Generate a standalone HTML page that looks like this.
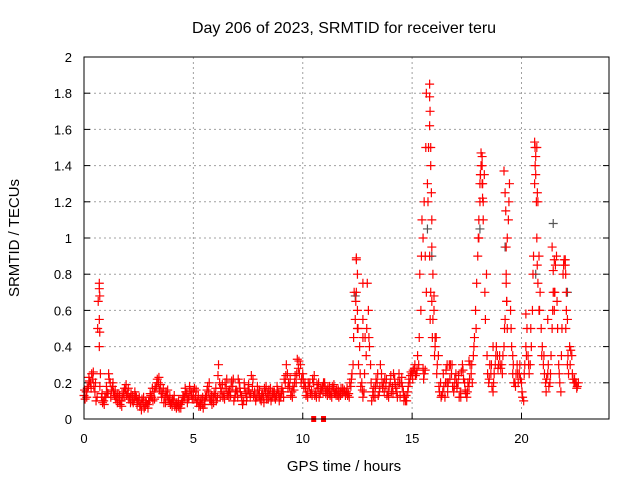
<!DOCTYPE html>
<html><head><meta charset="utf-8"><style>
body{margin:0;background:#fff;}
svg text{font-family:"Liberation Sans",sans-serif;fill:#000;}
</style></head><body>
<svg id="chart" width="640" height="480" xmlns="http://www.w3.org/2000/svg">
<rect width="640" height="480" fill="#fff"/>
<text x="344" y="33" font-size="16" text-anchor="middle">Day 206 of 2023, SRMTID for receiver teru</text>
<text x="344" y="471" font-size="15" text-anchor="middle">GPS time / hours</text>
<text x="19" y="238" font-size="15" text-anchor="middle" transform="rotate(-90 19 238)">SRMTID / TECUs</text>
<g id="grid"></g>
<g id="ticks"></g>
<g id="marks"></g>
<rect x="84" y="57" width="525" height="362" fill="none" stroke="#000" stroke-width="1"/>
</svg>
<script>
const xTicks=[0,5,10,15,20];
const yTicks=[0,0.2,0.4,0.6,0.8,1,1.2,1.4,1.6,1.8,2];
const yTickLabels=["0","0.2","0.4","0.6","0.8","1","1.2","1.4","1.6","1.8","2"];
// samples every 0.1 h starting 0
const valsA=[0.13,0.15,0.18,0.2,0.22,0.15,0.12,0.4,0.12,0.1,
0.12,0.14,0.2,0.18,0.13,0.12,0.1,0.1,0.15,0.16,
0.14,0.12,0.1,0.11,0.12,0.1,0.08,0.09,0.07,0.08,
0.1,0.12,0.15,0.18,0.2,0.19,0.14,0.12,0.13,0.1,
0.09,0.1,0.08,0.07,0.08,0.1,0.12,0.14,0.12,0.13,
0.15,0.12,0.1,0.09,0.08,0.1,0.13,0.15,0.1,0.12,
0.13,0.12,0.2,0.15,0.14,0.17,0.15,0.13,0.18,0.12,
0.15,0.2,0.13,0.1,0.14,0.16,0.12,0.18,0.15,0.12,
0.13,0.1,0.12,0.15,0.14,0.13,0.12,0.15,0.13,0.14,
0.12,0.15,0.2,0.25,0.18,0.15,0.16,0.2,0.28,0.3,
0.25,0.2,0.15,0.18,0.16,0.2,0.15,0.17,0.14,0.18,
0.2,0.16,0.14,0.15,0.17,0.15,0.13,0.15,0.14,0.16,
0.15,0.14,0.18,0.3,0.55,0.8,0.4,0.2,0.15,0.35,
0.6,0.3,0.15,0.12,0.2,0.15,0.25,0.2,0.18,0.15,
0.2,0.18,0.22,0.15,0.25,0.2,0.15,0.1,0.15,0.2,
0.25,0.28,0.25,0.3,0.6,0.28,0.27,1.3,0.9,0.65,
0.6,0.45,0.35,0.2,0.15,0.12,0.2,0.3,0.25,0.15,
0.25,0.2,0.15,0.3,0.2,0.12,0.18,0.25,0.35,0.6,
0.9,1.3,1.45,1.35,0.8,0.2,0.25,0.15,0.3,0.35,
0.35,0.3,0.4,0.8,1.1,0.6,0.25,0.2,0.3,0.25,
0.2,0.1,0.4,0.35,0.3,0.6,1.3,1.5,0.9,0.5,
0.3,0.2,0.25,0.2,0.5,0.88,0.9,0.3,0.15,0.8,
0.85,0.3,0.4,0.35,0.2,0.2,0.2];
// samples every 0.1 h starting 0.05
const valsB=[0.11,0.17,0.21,0.25,0.18,0.1,0.65,0.25,0.09,0.12,
0.15,0.22,0.16,0.15,0.11,0.14,0.08,0.12,0.17,0.13,
0.11,0.14,0.09,0.13,0.1,0.07,0.11,0.06,0.09,0.1,
0.13,0.1,0.17,0.22,0.16,0.12,0.09,0.15,0.11,0.08,
0.11,0.07,0.09,0.06,0.09,0.12,0.15,0.11,0.16,0.11,
0.17,0.09,0.07,0.11,0.06,0.12,0.18,0.11,0.08,0.14,
0.1,0.3,0.17,0.12,0.2,0.13,0.16,0.21,0.1,0.16,
0.22,0.15,0.08,0.17,0.12,0.15,0.24,0.13,0.1,0.16,
0.11,0.14,0.17,0.11,0.16,0.1,0.14,0.11,0.16,0.12,
0.17,0.22,0.3,0.2,0.13,0.18,0.24,0.33,0.25,0.22,
0.18,0.13,0.2,0.14,0.22,0.13,0.19,0.12,0.16,0.2,
0.14,0.17,0.13,0.18,0.14,0.16,0.12,0.17,0.15,0.13,
0.13,0.2,0.25,0.7,0.89,0.3,0.18,0.12,0.45,0.75,
0.4,0.1,0.17,0.22,0.13,0.3,0.17,0.22,0.13,0.18,
0.15,0.25,0.17,0.2,0.13,0.18,0.12,0.1,0.22,0.26,
0.27,0.24,0.35,0.8,1.1,0.25,1.8,1.5,0.7,0.55,
0.4,0.3,0.15,0.13,0.18,0.27,0.2,0.3,0.18,0.22,
0.17,0.12,0.26,0.22,0.14,0.2,0.3,0.2,0.45,0.75,
1.1,1.4,1.2,0.55,0.25,0.3,0.18,0.25,0.4,0.3,
0.28,0.35,0.55,1.0,1.3,0.4,0.2,0.25,0.2,0.22,
0.12,0.3,0.5,0.25,0.4,0.9,1.45,1.2,0.7,0.4,
0.25,0.22,0.18,0.35,0.7,0.85,0.5,0.2,0.5,0.88,
0.6,0.25,0.38,0.22,0.2,0.18];
// samples every 0.1 h starting 0.025 (second scatter track)
const valsC=[0.16,0.12,0.23,0.17,0.26,0.2,0.5,0.18,0.14,0.08,
0.18,0.25,0.12,0.2,0.16,0.09,0.13,0.07,0.12,0.19,
0.17,0.09,0.13,0.15,0.08,0.12,0.05,0.12,0.1,0.06,
0.14,0.17,0.11,0.2,0.23,0.15,0.17,0.09,0.16,0.12,
0.07,0.13,0.06,0.1,0.06,0.13,0.17,0.09,0.18,0.15,
0.11,0.16,0.13,0.07,0.12,0.08,0.16,0.2,0.13,0.09,
0.17,0.24,0.12,0.19,0.11,0.22,0.12,0.18,0.22,0.15,
0.12,0.17,0.1,0.2,0.1,0.19,0.14,0.22,0.12,0.18,
0.16,0.13,0.09,0.18,0.11,0.17,0.15,0.12,0.18,0.1,
0.15,0.12,0.24,0.17,0.22,0.12,0.2,0.25,0.32,0.2,
0.22,0.17,0.12,0.2,0.13,0.24,0.12,0.2,0.17,0.15,
0.17,0.13,0.18,0.12,0.19,0.13,0.16,0.13,0.17,0.15,
0.17,0.12,0.22,0.45,0.65,0.5,0.25,0.16,0.25,0.5,
0.45,0.2,0.13,0.18,0.25,0.18,0.2,0.15,0.22,0.12,
0.24,0.14,0.19,0.12,0.2,0.23,0.1,0.13,0.18,0.24,
0.22,0.3,0.27,0.45,0.9,0.22,1.5,1.2,0.55,0.45,
0.35,0.25,0.18,0.12,0.25,0.2,0.15,0.22,0.3,0.18,
0.2,0.24,0.12,0.27,0.16,0.15,0.22,0.3,0.4,0.5,
1.0,1.35,1.3,0.7,0.35,0.22,0.3,0.2,0.35,0.28,
0.3,0.25,0.5,0.65,1.2,0.5,0.3,0.18,0.25,0.3,
0.15,0.25,0.35,0.3,0.5,0.8,1.4,1.25,0.6,0.35,
0.35,0.15,0.3,0.25,0.6,0.7,0.65,0.25,0.35,0.85,
0.5,0.35,0.3,0.25,0.22,0.17];
// extra points along peaks
const spikeT=[0.7,0.7,0.7,0.72,0.72,12.45,12.45,12.5,12.5,12.75,12.75,12.75,15.5,15.55,15.6,15.65,15.8,15.8,15.8,15.82,15.85,15.85,15.88,15.9,15.9,15.95,16.0,16.05,18.05,18.1,18.12,18.15,18.2,18.2,18.22,18.25,19.2,19.25,19.28,19.3,19.3,19.32,19.35,20.6,20.62,20.65,20.68,20.7,20.72,20.75,20.8,21.4,21.45,21.5,21.5,22.0,22.02,22.05,22.1,16.6,17.6,18.7,19.6,20.2,21.2];
const spikeV=[0.75,0.72,0.55,0.68,0.48,0.88,0.7,0.6,0.5,0.75,0.55,0.45,1.0,1.2,0.9,0.7,1.85,1.78,1.62,1.7,1.5,1.4,1.25,1.1,0.95,0.8,0.68,0.45,1.0,1.2,1.35,1.47,1.4,1.3,1.22,1.1,1.37,1.25,1.15,0.95,0.75,0.65,0.5,1.53,1.5,1.35,1.2,1.0,0.85,0.75,0.6,0.95,0.82,0.7,0.6,0.88,0.8,0.7,0.55,0.3,0.32,0.4,0.35,0.58,0.55];
const grayT=[15.7,15.9,18.1,19.25,20.65,21.45,22.1,12.4];
const grayV=[1.05,0.9,1.05,0.95,0.8,1.08,0.7,0.68];
const zeroRedT=[10.5,10.95];

const X0=84,X1=609,Y0=419,Y1=57;
const xs=t=>X0+(X1-X0)*t/24;
const ys=v=>Y0-(Y0-Y1)*v/2;
const NS="http://www.w3.org/2000/svg";
const grid=document.getElementById('grid'),ticks=document.getElementById('ticks'),marks=document.getElementById('marks');
function mk(tag,attrs,parent){const e=document.createElementNS(NS,tag);for(const k in attrs)e.setAttribute(k,attrs[k]);parent.appendChild(e);return e;}
xTicks.forEach(t=>{
  const x=xs(t);
  if(t>0){const g=mk('line',{x1:x,x2:x,y1:Y0,y2:Y1,stroke:'#a0a0a0','stroke-dasharray':'2,3'},grid);
  
  }
  mk('line',{x1:x,x2:x,y1:Y0,y2:Y0-6,stroke:'#000'},ticks);
  const l=mk('text',{x:x,y:443,'font-size':13,'text-anchor':'middle'},ticks);l.textContent=t;
  
  
});
yTicks.forEach((v,i)=>{
  const y=ys(v);
  if(v>0&&v<2){const g=mk('line',{x1:X0,x2:X1,y1:y,y2:y,stroke:'#a0a0a0','stroke-dasharray':'2,3'},grid);
  
  }
  mk('line',{x1:X0,x2:X0+6,y1:y,y2:y,stroke:'#000'},ticks);
  mk('line',{x1:X1,x2:X1-6,y1:y,y2:y,stroke:'#000'},ticks);
  const l=mk('text',{x:72,y:y+5,'font-size':13,'text-anchor':'end'},ticks);l.textContent=yTickLabels[i];
  
  
});
function cross(t,v,col){
  const x=xs(t),y=ys(v);
  const p=mk('path',{d:`M${x-4.5} ${y}H${x+4.5}M${x} ${y-4.5}V${y+4.5}`,stroke:col,'stroke-width':1.2,fill:'none'},marks);
  
  
}
grayT.forEach((t,i)=>cross(t,grayV[i],'#555'));
valsA.forEach((v,i)=>cross(i*0.1,v,'#f00'));
valsB.forEach((v,i)=>cross(i*0.1+0.05,v,'#f00'));
valsC.forEach((v,i)=>cross(i*0.1+0.025,v,'#f00'));
spikeT.forEach((t,i)=>cross(t,spikeV[i],'#f00'));
zeroRedT.forEach(t=>{
  const r=mk('rect',{x:xs(t)-2.5,y:Y0-3,width:5,height:6,fill:'#f00'},marks);
  
  
});
</script>
</body></html>
